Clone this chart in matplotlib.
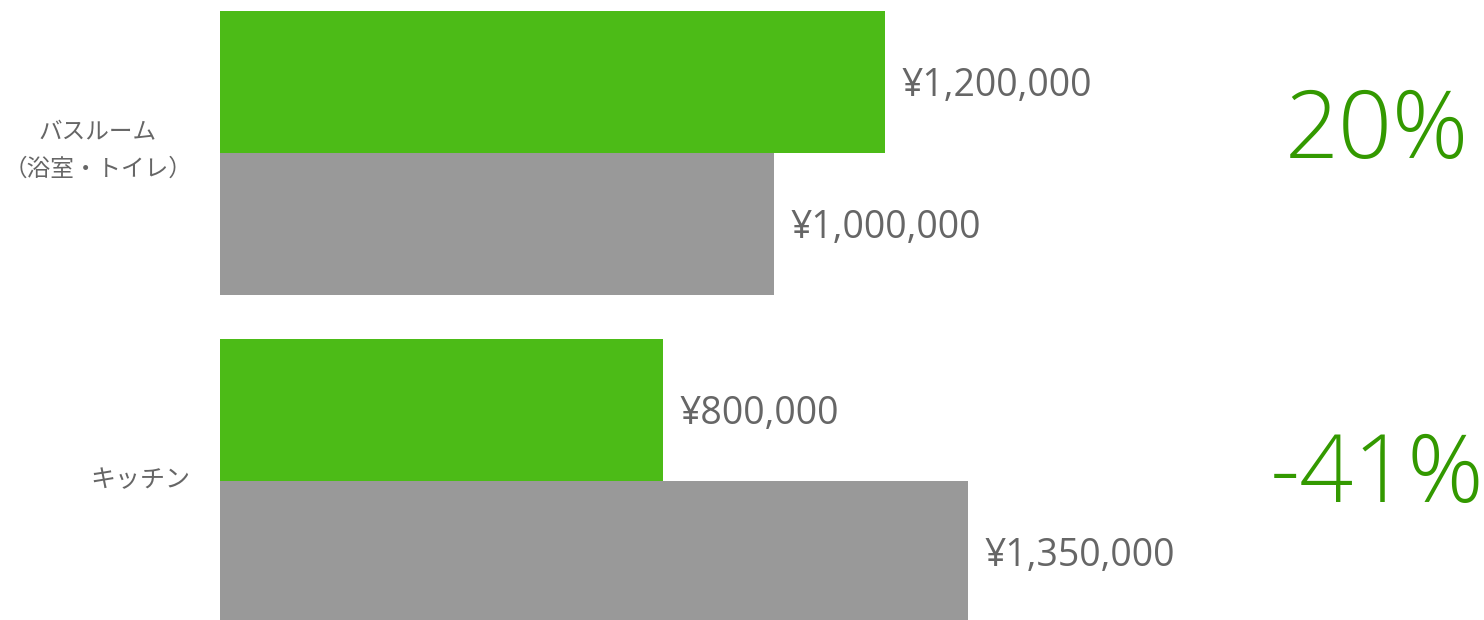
import matplotlib
matplotlib.use('Agg')
from matplotlib import pyplot as plt
import numpy as np

plt.rcParams['font.family'] = ['Open Sans', 'Noto Sans CJK JP', 'DejaVu Sans']

categories = ['バスルーム\n（浴室・トイレ）', 'キッチン']
current = [1200000, 800000]     # green
previous = [1000000, 1350000]   # gray
changes = ['20%', '-41%']

green = '#4cbb17'
gray = '#999999'
pct_color = '#339900'
txt = '#666666'

W, H = 1484, 620
fig = plt.figure(figsize=(W / 100, H / 100), dpi=100)
ax = fig.add_axes([220 / W, 0, 1 - 220 / W, 1])

y = np.arange(len(categories))
h = 0.433
ax.barh(y - h / 2, current, height=h, color=green)
ax.barh(y + h / 2, previous, height=h, color=gray)

ax.set_xlim(0, 1264 / 554 * 1e6)
ax.set_ylim(1.424, -0.466)
ax.axis('off')

for i in range(len(categories)):
    ax.text(current[i] + 30000, y[i] - h / 2 + 0.012, f'¥{current[i]:,}', va='center', ha='left',
            fontsize=27, color=txt)
    ax.text(previous[i] + 30000, y[i] + h / 2 + 0.012, f'¥{previous[i]:,}', va='center', ha='left',
            fontsize=27, color=txt)

# category labels
fig.text(192 / W, 1 - 151 / H, categories[0], ha='right', va='center', multialignment='center',
         fontsize=17, color=txt, family='Noto Sans CJK JP', linespacing=1.75)
fig.text(190 / W, 1 - 480 / H, categories[1], ha='right', va='center',
         fontsize=18, color=txt, family='Noto Sans CJK JP')

# change percentages
fig.text(1377 / W, 1 - 134 / H, changes[0], ha='center', va='center', fontsize=68,
         color=pct_color, fontweight='light')
fig.text(1377 / W, 1 - 478 / H, changes[1], ha='center', va='center', fontsize=68,
         color=pct_color, fontweight='light')

fig.savefig('out.png', dpi=100)
